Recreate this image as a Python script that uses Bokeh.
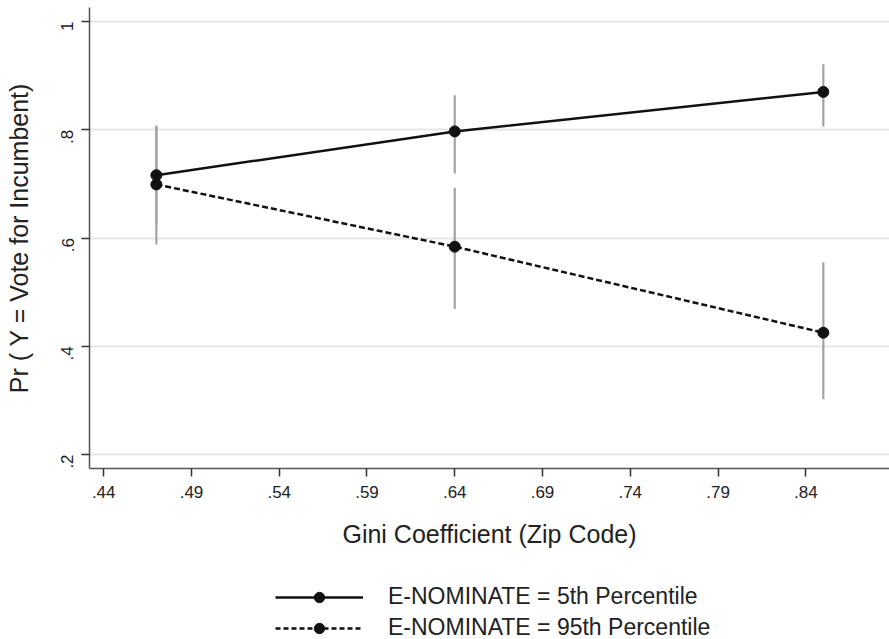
from bokeh.plotting import figure
from bokeh.models import Range1d, FixedTicker, Legend, LegendItem
from bokeh.layouts import column
from bokeh.embed import file_html
from bokeh.resources import INLINE
import math

# Data
gini = [0.47, 0.64, 0.85]
p5 = [0.716, 0.797, 0.870]
p5_lo = [0.624, 0.719, 0.806]
p5_hi = [0.808, 0.864, 0.921]
p95 = [0.699, 0.584, 0.425]
p95_lo = [0.588, 0.469, 0.302]
p95_hi = [0.806, 0.693, 0.555]
x_ticks = [0.44, 0.49, 0.54, 0.59, 0.64, 0.69, 0.74, 0.79, 0.84]
x_tick_labels = [".44", ".49", ".54", ".59", ".64", ".69", ".74", ".79", ".84"]
y_ticks = [0.2, 0.4, 0.6, 0.8, 1.0]
y_tick_labels = [".2", ".4", ".6", ".8", "1"]
series_labels = ["E-NOMINATE = 5th Percentile", "E-NOMINATE = 95th Percentile"]

FONT = "Liberation Sans"
INK = "#111111"
CI = "#a3a3a3"

p = figure(width=889, height=559, output_backend="svg", toolbar_location=None,
           x_range=Range1d(0.4319, 0.8877), y_range=Range1d(0.174, 1.026),
           min_border_left=89, min_border_right=0, min_border_top=7, min_border_bottom=91)
p.outline_line_color = None

# grid
p.xgrid.visible = False
p.ygrid.grid_line_color = "#e6e6e6"
p.ygrid.grid_line_width = 2

# axes
p.xaxis.ticker = FixedTicker(ticks=x_ticks)
p.xaxis.major_label_overrides = {t: l for t, l in zip(x_ticks, x_tick_labels)}
p.yaxis.ticker = FixedTicker(ticks=y_ticks)
p.yaxis.major_label_overrides = {t: l for t, l in zip(y_ticks, y_tick_labels)}
p.yaxis.major_label_orientation = math.pi / 2
for ax in (p.xaxis, p.yaxis):
    ax.axis_line_color = "#555555"
    ax.axis_line_width = 1.5
    ax.major_tick_line_color = "#333333"
    ax.major_tick_line_width = 1.5
    ax.major_tick_out = 8
    ax.major_tick_in = 0
    ax.minor_tick_line_color = None
    ax.major_label_text_font = FONT
    ax.major_label_text_font_size = "17px"
    ax.major_label_text_color = "#222222"
    ax.axis_label_text_font = FONT
    ax.axis_label_text_font_size = "25px"
    ax.axis_label_text_font_style = "normal"
    ax.axis_label_text_color = "#222222"
p.xaxis.axis_label = "Gini Coefficient (Zip Code)"
p.yaxis.axis_label = "Pr ( Y = Vote for Incumbent)"
p.xaxis.major_label_standoff = 9
p.xaxis.axis_label_standoff = 19
p.yaxis.major_label_standoff = 14
p.yaxis.axis_label_standoff = 20

# CIs
p.segment(x0=gini, y0=p5_lo, x1=gini, y1=p5_hi, line_color=CI, line_width=2.2)
p.segment(x0=gini, y0=p95_lo, x1=gini, y1=p95_hi, line_color=CI, line_width=2.2)

# lines + markers
p.line(gini, p5, line_color=INK, line_width=2.5)
p.scatter(gini, p5, size=11, fill_color=INK, line_color=INK)
p.line(gini, p95, line_color=INK, line_width=2.5, line_dash="6 3")
p.scatter(gini, p95, size=11, fill_color=INK, line_color=INK)

# legend panel (separate strip below the chart)
lg = figure(width=889, height=80, output_backend="svg", toolbar_location=None,
            x_range=Range1d(0, 1), y_range=Range1d(0, 1),
            min_border_left=0, min_border_right=0, min_border_top=0, min_border_bottom=0)
lg.outline_line_color = None
lg.axis.visible = False
lg.grid.visible = False
# swatch renderers: placed outside the visible range, used only for legend glyphs
r1 = lg.line([-5, -4], [-5, -5], line_color=INK, line_width=2.5)
m1 = lg.scatter([-5], [-5], size=11, fill_color=INK, line_color=INK)
r2 = lg.line([-5, -4], [-5, -5], line_color=INK, line_width=2.5, line_dash="5 3")
m2 = lg.scatter([-5], [-5], size=11, fill_color=INK, line_color=INK)

legend = Legend(items=[
    LegendItem(label=series_labels[0], renderers=[r1, m1]),
    LegendItem(label=series_labels[1], renderers=[r2, m2]),
], location=(186, -2), orientation="vertical")
legend.border_line_color = None
legend.background_fill_alpha = 0
legend.label_text_font = FONT
legend.label_text_font_size = "23px"
legend.label_text_color = "#222222"
legend.glyph_width = 88
legend.glyph_height = 26
legend.label_height = 26
legend.label_standoff = 25
legend.spacing = 4
legend.margin = 0
legend.padding = 0
lg.add_layout(legend, "center")

layout = column(p, lg, spacing=0)
open("out.html", "w").write(file_html(layout, INLINE))
